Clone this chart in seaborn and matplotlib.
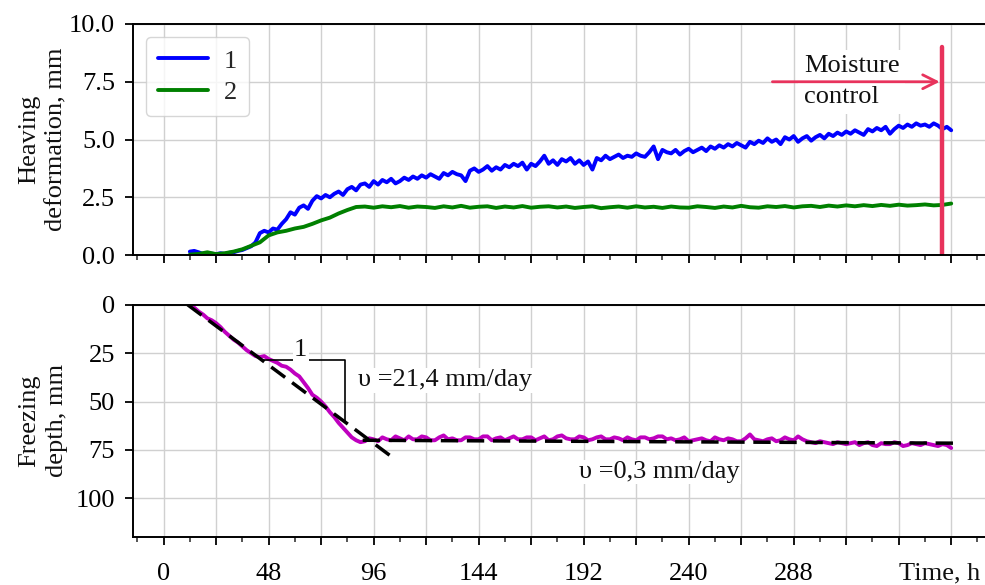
import numpy as np
import pandas as pd
import seaborn as sns
import matplotlib.pyplot as plt
from matplotlib.ticker import MultipleLocator
import matplotlib.transforms as mtransforms

# time axes of the record, h
hours_fine = list(range(12, 361, 2))
hours_coarse = list(range(12, 361, 4))

# heaving deformation, mm, curve 1 (every 2 h)
heave_1 = [0.15, 0.18, 0.12, 0.05, 0.03, 0.06, 0.04, 0.08, 0.05, 0.10,
           0.12, 0.18, 0.22, 0.30, 0.38, 0.55, 0.95, 1.05, 0.98, 1.15,
           1.10, 1.35, 1.55, 1.85, 1.75, 2.05, 2.15, 2.00, 2.35, 2.55,
           2.45, 2.60, 2.50, 2.65, 2.75, 2.60, 2.85, 2.95, 2.80, 3.05,
           3.10, 2.95, 3.20, 3.05, 3.25, 3.15, 3.30, 3.10, 3.20, 3.35,
           3.25, 3.40, 3.30, 3.45, 3.35, 3.50, 3.40, 3.30, 3.55, 3.45,
           3.60, 3.50, 3.45, 3.20, 3.65, 3.75, 3.60, 3.70, 3.85, 3.65,
           3.80, 3.70, 3.90, 3.80, 3.95, 3.85, 4.00, 3.70, 3.95, 3.85,
           4.05, 4.30, 3.95, 4.10, 3.90, 4.15, 4.05, 4.20, 3.95, 4.10,
           3.90, 4.05, 3.70, 4.20, 4.10, 4.30, 4.15, 4.25, 4.35, 4.20,
           4.30, 4.25, 4.40, 4.30, 4.25, 4.45, 4.70, 4.15, 4.55, 4.45,
           4.40, 4.55, 4.35, 4.50, 4.60, 4.45, 4.55, 4.65, 4.50, 4.70,
           4.60, 4.75, 4.65, 4.80, 4.70, 4.85, 4.75, 4.65, 4.90, 4.80,
           4.95, 4.85, 5.05, 4.90, 5.00, 4.80, 5.10, 5.00, 5.15, 4.90,
           5.05, 5.15, 4.95, 5.10, 5.20, 5.05, 5.25, 5.15, 5.30, 5.20,
           5.35, 5.25, 5.40, 5.30, 5.20, 5.45, 5.35, 5.50, 5.40, 5.55,
           5.25, 5.45, 5.60, 5.50, 5.65, 5.55, 5.70, 5.60, 5.65, 5.55,
           5.70, 5.60, 5.45, 5.55, 5.40]

# heaving deformation, mm, curve 2 (every 4 h)
heave_2 = [0.02, 0.05, 0.12, 0.04, 0.08, 0.15, 0.25, 0.40, 0.55, 0.85,
           0.98, 1.05, 1.15, 1.22, 1.35, 1.50, 1.62, 1.80, 1.95, 2.08,
           2.10, 2.05, 2.11, 2.07, 2.12, 2.05, 2.10, 2.08, 2.04, 2.11,
           2.06, 2.13, 2.05, 2.09, 2.11, 2.04, 2.10, 2.06, 2.12, 2.05,
           2.09, 2.11, 2.06, 2.10, 2.04, 2.08, 2.11, 2.03, 2.07, 2.10,
           2.05, 2.11, 2.06, 2.09, 2.04, 2.10, 2.06, 2.05, 2.11, 2.08,
           2.04, 2.10, 2.06, 2.13, 2.07, 2.05, 2.11, 2.08, 2.12, 2.06,
           2.11, 2.13, 2.08, 2.14, 2.10, 2.15, 2.11, 2.16, 2.12, 2.17,
           2.13, 2.18, 2.14, 2.16, 2.19, 2.15, 2.17, 2.23]

# freezing depth, mm (every 2 h)
depth = [0.0, 1.5, 3.5, 5.0, 7.0, 8.0, 9.5, 11.5, 14.0, 16.0,
         18.0, 19.5, 21.5, 23.5, 25.0, 26.5, 27.0, 26.5, 28.0, 29.0,
         30.0, 31.5, 32.0, 33.5, 35.5, 37.0, 40.0, 43.0, 46.5, 48.0,
         50.0, 52.5, 55.5, 58.0, 61.0, 63.5, 66.0, 68.5, 70.0, 71.0,
         70.5, 69.0, 69.5, 70.5, 68.5, 69.5, 70.0, 68.0, 69.0, 70.0,
         68.0, 69.5, 69.5, 68.0, 68.5, 70.0, 70.0, 68.5, 67.5, 69.5,
         69.0, 70.0, 70.0, 68.5, 68.5, 69.5, 69.5, 68.0, 68.0, 70.0,
         69.0, 68.5, 70.0, 69.0, 68.0, 69.5, 69.5, 68.5, 68.5, 70.0,
         69.0, 68.0, 70.0, 69.5, 68.0, 67.5, 69.0, 69.5, 69.5, 68.0,
         68.5, 70.0, 69.5, 68.5, 68.0, 69.5, 69.5, 68.5, 69.0, 70.0,
         68.5, 69.5, 70.0, 68.5, 68.5, 69.5, 69.0, 68.0, 68.0, 69.5,
         69.0, 70.0, 69.5, 68.5, 70.5, 70.0, 69.5, 69.0, 70.0, 70.5,
         68.5, 69.5, 70.0, 69.0, 69.5, 70.5, 70.5, 69.0, 67.0, 69.5,
         70.0, 70.5, 69.5, 69.0, 70.5, 70.0, 68.5, 69.5, 70.0, 68.0,
         69.5, 70.5, 71.0, 71.5, 70.5, 71.0, 71.5, 72.0, 71.0, 71.5,
         72.0, 71.5, 71.0, 72.5, 71.5, 71.0, 72.5, 73.0, 71.5, 72.0,
         72.0, 71.0, 71.5, 73.0, 72.5, 71.5, 72.0, 72.5, 71.5, 72.0,
         72.5, 73.0, 72.0, 72.5, 74.0]

# fitted rates (dashed lines) and slope triangle
fit_fast_t = [11, 106]
fit_fast_d = [0, 80]
fit_slow_t = [91, 362]
fit_slow_d = [70, 71.5]
tri_t = [45.2, 83, 83]
tri_d = [28.5, 28.5, 60.4]

moisture_t = 356
x_labels = ['0', '', '48', '', '96', '', '144', '', '192', '', '240', '', '288', '', '', '']

red = '#e8335c'
ink = '#111111'

sns.set_style("ticks")
plt.rcParams['font.family'] = ['Liberation Serif', 'DejaVu Serif']
plt.rcParams['font.size'] = 19

fig = plt.figure(figsize=(9.85, 5.85), dpi=100)
ax1 = fig.add_axes([0.135, 0.564, 0.884, 0.395])
ax2 = fig.add_axes([0.135, 0.082, 0.884, 0.397], sharex=ax1)

df1 = pd.DataFrame({'Time': hours_fine, 'heave': heave_1, 'curve': '1'})
df2 = pd.DataFrame({'Time': hours_coarse, 'heave': heave_2, 'curve': '2'})
df_long = pd.concat([df1, df2], ignore_index=True)
sns.lineplot(data=df_long, x='Time', y='heave', hue='curve',
             palette={'1': 'blue', '2': 'green'}, lw=2.8, ax=ax1)

sns.lineplot(x=hours_fine, y=depth, color='m', lw=2.8, ax=ax2)
ax2.plot(fit_fast_t, fit_fast_d, color='k', ls=(0, (5, 2.5)), lw=2.5)
ax2.plot(fit_slow_t, fit_slow_d, color='k', ls=(0, (5, 2.5)), lw=2.5)
ax2.plot(tri_t, tri_d, color='k', lw=1.2)

box = dict(facecolor='white', edgecolor='none', pad=1)
ax2.text(62.6, 23.3, '1', ha='center', va='center', color=ink, bbox=box)
ax2.text(89, 39, 'υ =21,4 mm/day', ha='left', va='center', color=ink, bbox=box)
ax2.text(190, 86.4, 'υ =0,3 mm/day', ha='left', va='center', color=ink, bbox=box)

# moisture control marker
ax1.plot([moisture_t, moisture_t], [0, 9.0], color=red, lw=3.2)
ax1.text(292.6, 7.5, 'Moisture\ncontrol', ha='left', va='center', color=ink,
         linespacing=1.55, bbox=dict(facecolor='white', edgecolor='none', pad=4))
ax1.annotate('', xy=(moisture_t, 7.5), xytext=(277, 7.5),
             arrowprops=dict(arrowstyle='->', color=red, lw=2, mutation_scale=25))

for ax in (ax1, ax2):
    ax.set_xlim(-14, 384)
    ax.set_xticks(np.arange(0, 361, 24))
    ax.xaxis.set_minor_locator(MultipleLocator(12))
    ax.grid(True, which='major', color='#d0d0d0', lw=1)
    ax.tick_params(which='major', length=6, width=1.3, direction='out', pad=7, colors='k')
    ax.tick_params(which='minor', length=3.5, width=1.1, direction='out')
    ax.tick_params(axis='x', which='major', pad=13)
    for s in ax.spines.values():
        s.set_linewidth(1.4)
        s.set_color('k')
    ax.set_xlabel('')

ax1.tick_params(labelbottom=False)
ax1.set_ylim(0, 10)
ax1.set_yticks([0, 2.5, 5, 7.5, 10])
ax1.set_yticklabels(['0.0', '2.5', '5.0', '7.5', '10.0'])
ax1.set_ylabel('Heaving\ndeformation, mm', color=ink, linespacing=1.3)
ax1.yaxis.set_label_coords(-0.075, 0.5)
ax1.legend(loc='upper left', handlelength=1.9, handletextpad=0.6, labelspacing=0.3,
           fontsize=19, borderpad=0.45, bbox_to_anchor=(0.0, 1.0), framealpha=0.8)

ax2.set_ylim(120, 0)
ax2.set_yticks([0, 25, 50, 75, 100])
ax2.set_xticklabels(x_labels)
ax2.set_ylabel('Freezing\ndepth, mm', color=ink, linespacing=1.3)
ax2.yaxis.set_label_coords(-0.075, 0.5)
trans = mtransforms.blended_transform_factory(ax2.transData, ax2.transAxes)
ax2.text(336, -0.155, 'Time, h', ha='left', va='center', transform=trans, color=ink)

fig.savefig('out.png', dpi=100)
